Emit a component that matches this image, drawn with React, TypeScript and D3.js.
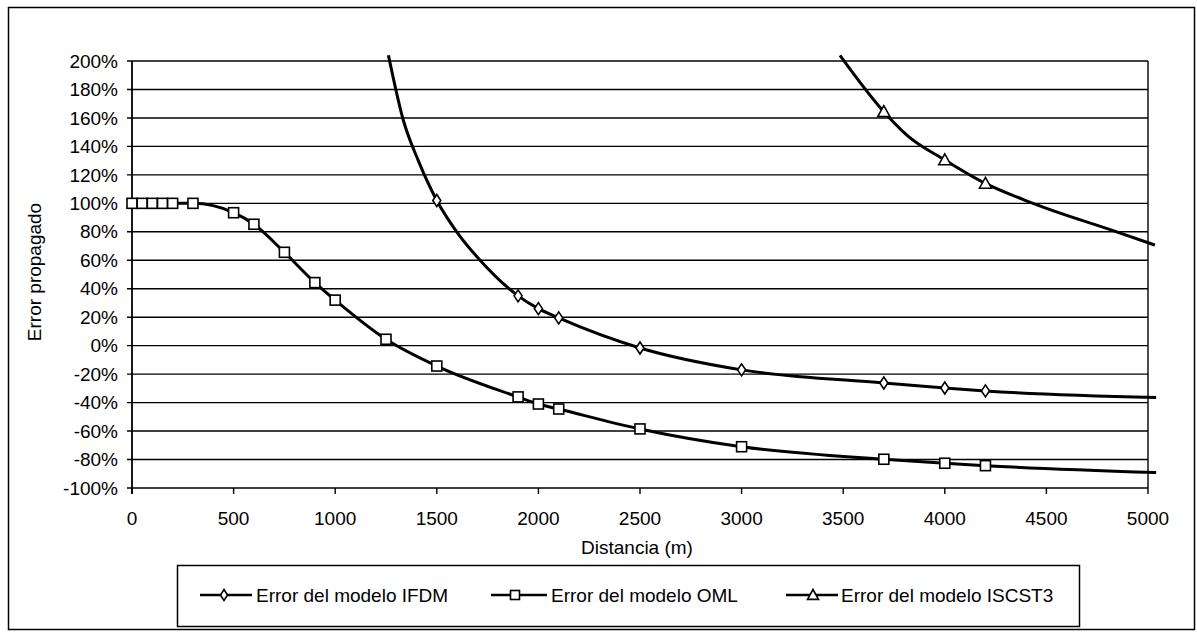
import React from "react";
import * as d3 from "d3";

// ---- data (distance m, error %) ----
const xTicks = [0, 500, 1000, 1500, 2000, 2500, 3000, 3500, 4000, 4500, 5000];
const yTicks = [-100, -80, -60, -40, -20, 0, 20, 40, 60, 80, 100, 120, 140, 160, 180, 200];

// IFDM
const ifdmLine: [number, number][] = [
  [1262, 204], [1336, 158], [1409, 130], [1500, 102], [1598, 80], [1713, 60],
  [1900, 35], [2000, 26], [2100, 19.5], [2500, -1.6], [3000, -17], [3700, -26.2],
  [4000, -29.7], [4200, -31.8], [5040, -36.5],
];
const ifdmMarkers: [number, number][] = [
  [1500, 102], [1900, 35], [2000, 26], [2100, 19.5], [2500, -1.6], [3000, -17],
  [3700, -26.2], [4000, -29.7], [4200, -31.8],
];

// OML
const omlLine: [number, number][] = [
  [0, 100], [50, 100], [100, 100], [150, 100], [200, 100], [300, 100], [500, 93.4],
  [600, 85.3], [750, 65.6], [900, 44.3], [1000, 32], [1250, 4.5], [1500, -14.3],
  [1900, -36], [2000, -41], [2100, -44.5], [2500, -58.5], [3000, -71], [3700, -79.8],
  [4000, -82.6], [4200, -84.3], [5040, -89.2],
];
const omlMarkers: [number, number][] = [
  [0, 100], [50, 100], [100, 100], [150, 100], [200, 100], [300, 100], [500, 93.4],
  [600, 85.3], [750, 65.6], [900, 44.3], [1000, 32], [1250, 4.5], [1500, -14.3],
  [1900, -36], [2000, -41], [2100, -44.5], [2500, -58.5], [3000, -71], [3700, -79.8],
  [4000, -82.6], [4200, -84.3],
];

// ISCST3
const iscLine: [number, number][] = [
  [3484, 204], [3700, 164.4], [3813, 148], [4000, 130.5], [4200, 114],
  [4434, 100], [4846, 80], [5034, 70.7],
];
const iscMarkers: [number, number][] = [[3700, 164.4], [4000, 130.5], [4200, 114]];

const legendLabels = ["Error del modelo IFDM", "Error del modelo OML", "Error del modelo ISCST3"];

const FONT = "'Liberation Sans', Arial, Helvetica, sans-serif";

function Diamond({ cx, cy, s = 5 }: { cx: number; cy: number; s?: number }) {
  return (
    <path
      d={`M${cx},${cy - s - 1}L${cx + s - 1},${cy}L${cx},${cy + s + 1}L${cx - s + 1},${cy}Z`}
      fill="#fff"
      stroke="#000"
      strokeWidth={1.6}
    />
  );
}
function Square({ cx, cy, s = 5 }: { cx: number; cy: number; s?: number }) {
  return <rect x={cx - s} y={cy - s} width={2 * s} height={2 * s} fill="#fff" stroke="#000" strokeWidth={1.6} />;
}
function Triangle({ cx, cy, s = 6 }: { cx: number; cy: number; s?: number }) {
  return (
    <path
      d={`M${cx},${cy - s}L${cx + s},${cy + s * 0.8}L${cx - s},${cy + s * 0.8}Z`}
      fill="#fff"
      stroke="#000"
      strokeWidth={1.6}
    />
  );
}

export default function App() {
  const W = 1197, H = 633;
  const x = d3.scaleLinear().domain([0, 5000]).range([132, 1148]);
  const y = d3.scaleLinear().domain([-100, 200]).range([488, 61]);
  const line = d3
    .line<[number, number]>()
    .x((d) => x(d[0]))
    .y((d) => y(d[1]))
    .curve(d3.curveMonotoneX);

  const legendItems = [
    { lx1: 200, lx2: 252, mx: 224, tx: 256, kind: "d" },
    { lx1: 491, lx2: 547, mx: 515, tx: 551, kind: "s" },
    { lx1: 786, lx2: 838, mx: 813, tx: 841, kind: "t" },
  ];
  const ly = 595;

  return (
    <svg width={W} height={H} style={{ position: "absolute", left: 0, top: 0, background: "#fff" }} fontFamily={FONT}>
      <rect x={0} y={0} width={W} height={H} fill="#fff" />
      {/* outer border */}
      <rect x={8.5} y={7.5} width={1186} height={622} fill="none" stroke="#000" strokeWidth={1.5} />

      {/* gridlines */}
      {yTicks.map((t) => (
        <line key={"g" + t} x1={x(0) - 5} x2={x(5000)} y1={y(t)} y2={y(t)} stroke="#000" strokeWidth={1.4} />
      ))}
      {/* plot sides */}
      <line x1={x(0)} x2={x(0)} y1={y(200)} y2={y(-100) + 6} stroke="#000" strokeWidth={1.8} />
      <line x1={x(5000)} x2={x(5000)} y1={y(200)} y2={y(-100)} stroke="#000" strokeWidth={1.4} />
      {/* x ticks */}
      {xTicks.map((t) => (
        <line key={"xt" + t} x1={x(t)} x2={x(t)} y1={y(-100)} y2={y(-100) + 6} stroke="#000" strokeWidth={1.4} />
      ))}

      {/* y tick labels */}
      {yTicks.map((t) => (
        <text key={"yl" + t} x={118} y={y(t)} dy="0.35em" textAnchor="end" fontSize={19} fill="#000">
          {`${t}%`}
        </text>
      ))}
      {/* x tick labels */}
      {xTicks.map((t) => (
        <text key={"xl" + t} x={x(t)} y={525} textAnchor="middle" fontSize={19} fill="#000">
          {t}
        </text>
      ))}
      <text x={637} y={554} textAnchor="middle" fontSize={19} fill="#000">
        Distancia (m)
      </text>
      <text transform="translate(41,272) rotate(-90)" textAnchor="middle" fontSize={19} fill="#000">
        Error propagado
      </text>

      {/* series lines */}
      <path d={line(omlLine) || ""} fill="none" stroke="#000" strokeWidth={3} />
      <path d={line(ifdmLine) || ""} fill="none" stroke="#000" strokeWidth={3} />
      <path d={line(iscLine) || ""} fill="none" stroke="#000" strokeWidth={3} />

      {/* markers */}
      {omlMarkers.map((d, i) => (
        <Square key={"om" + i} cx={x(d[0])} cy={y(d[1])} />
      ))}
      {ifdmMarkers.map((d, i) => (
        <Diamond key={"im" + i} cx={x(d[0])} cy={y(d[1])} />
      ))}
      {iscMarkers.map((d, i) => (
        <Triangle key={"tm" + i} cx={x(d[0])} cy={y(d[1])} />
      ))}

      {/* legend */}
      <rect x={177.5} y={565.5} width={902} height={61} fill="#fff" stroke="#000" strokeWidth={1.5} />
      {legendItems.map((it, i) => (
        <g key={"lg" + i}>
          <line x1={it.lx1} x2={it.lx2} y1={ly} y2={ly} stroke="#000" strokeWidth={2.5} />
          {it.kind === "d" && <Diamond cx={it.mx} cy={ly} s={4.5} />}
          {it.kind === "s" && <Square cx={it.mx} cy={ly} s={4.5} />}
          {it.kind === "t" && <Triangle cx={it.mx} cy={ly} s={5.5} />}
          <text x={it.tx} y={ly} dy="0.35em" fontSize={19} fill="#000">
            {legendLabels[i]}
          </text>
        </g>
      ))}
    </svg>
  );
}
